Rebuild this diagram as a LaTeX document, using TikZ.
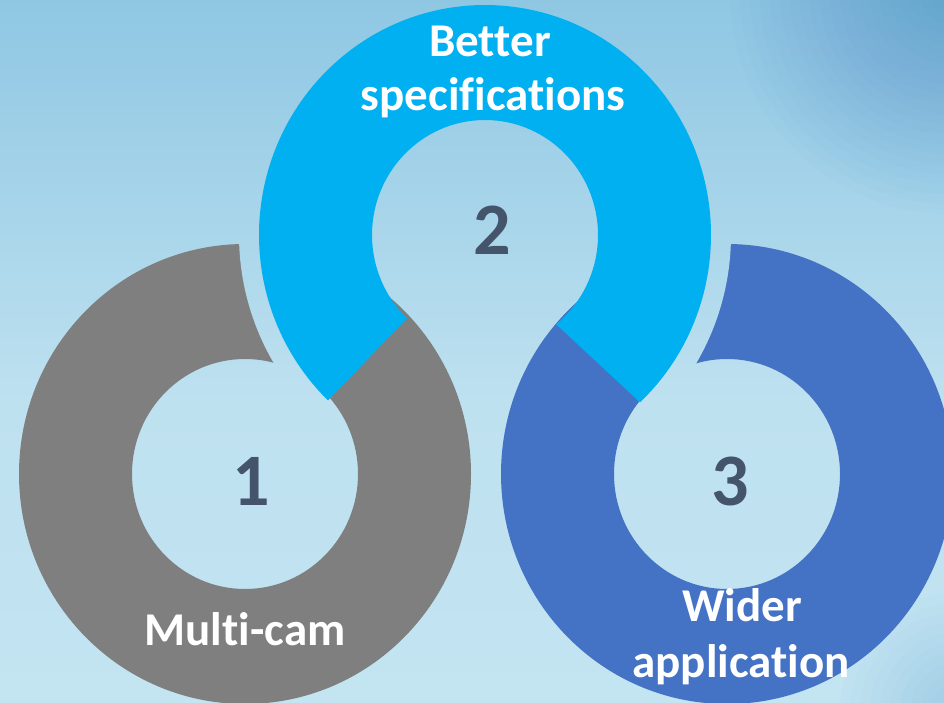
\documentclass[tikz,border=0pt]{standalone}
\usepackage{fontspec}
\setmainfont{Carlito}[Ligatures={NoCommon,NoContextual}]
\usetikzlibrary{calc}

\definecolor{bgtop}{HTML}{8FC7E3}
\definecolor{bgmid}{HTML}{BEE1F0}
\definecolor{bgbot}{HTML}{C3E4F1}
\definecolor{bgdark}{HTML}{2F7FC6}
\definecolor{ringgray}{HTML}{7F7F7F}
\definecolor{ringcyan}{HTML}{00B0F0}
\definecolor{ringblue}{HTML}{4472C4}
\definecolor{numcol}{HTML}{44546A}

% sky-blue backdrop, reused wherever a gap is cut out of a ring
\newcommand\paintbackdrop{%
  \shade[bottom color=bgmid, top color=bgtop] (0,300) rectangle (944,702);
  \shade[bottom color=bgbot, top color=bgmid] (0,0) rectangle (944,300.5);
  \foreach \k in {1,...,22}
    \fill[bgdark, fill opacity=0.02] (950,708) circle ({10*\k});
  \foreach \k in {1,...,12}
    \fill[bgdark, fill opacity=0.02] (960,-10) circle ({10*\k});
}

\begin{document}
\begin{tikzpicture}[x=1pt,y=1pt,
  ringlabel/.style={text=white, font=\bfseries\fontsize{47}{54}\selectfont,
                    anchor=base, inner sep=0pt},
  ringnum/.style={text=numcol, font=\bfseries\fontsize{74}{80}\selectfont,
                  anchor=base, inner sep=0pt}]
  \useasboundingbox (0,0) rectangle (944,702);
  \clip (0,0) rectangle (944,702);
  \paintbackdrop

  % ring centres
  \coordinate (c1) at (245,228);
  \coordinate (c2) at (485,467);
  \coordinate (c3) at (727,228);

  % left and right rings (full annuli)
  \fill[ringgray, even odd rule] (c1) ellipse[x radius=226, y radius=230]
                                 (c1) ellipse[x radius=113, y radius=115];
  \fill[ringblue, even odd rule] (c3) ellipse[x radius=226, y radius=230]
                                 (c3) ellipse[x radius=113, y radius=115];

  % clear a gap along the outside of the top ring
  \begin{scope}
    \clip ($(c2)+(-46.7:246 and 250)$)
      arc[start angle=-46.7, end angle=226, x radius=246, y radius=250]
      -- ($(c2)+(226:220 and 224)$)
      arc[start angle=226, end angle=-46.7, x radius=220, y radius=224]
      -- cycle;
    \paintbackdrop
  \end{scope}

  % top ring, open at the bottom
  \fill[ringcyan] ($(c2)+(-46.7:226 and 230)$)
    arc[start angle=-46.7, end angle=226, x radius=226, y radius=230]
    -- ($(c2)+(226.4:113 and 115)$)
    arc[start angle=226.4, end angle=-50.97, x radius=113, y radius=115]
    -- cycle;

  % labels
  \node[ringlabel] (better) at (490,645) {Better};
  \node[ringlabel] (specs)  at (493,591) {specifications};
  \node[ringlabel] (multi)  at (245,57)  {Multi-cam};
  \node[ringlabel] (wider)  at (742,81)  {Wider};
  \node[ringlabel] (appl)   at (741,25)  {application};

  \node[ringnum] (n1) at (251,197) {1};
  \node[ringnum] (n2) at (492.5,447) {2};
  \node[ringnum] (n3) at (730,197) {3};
\end{tikzpicture}
\end{document}
